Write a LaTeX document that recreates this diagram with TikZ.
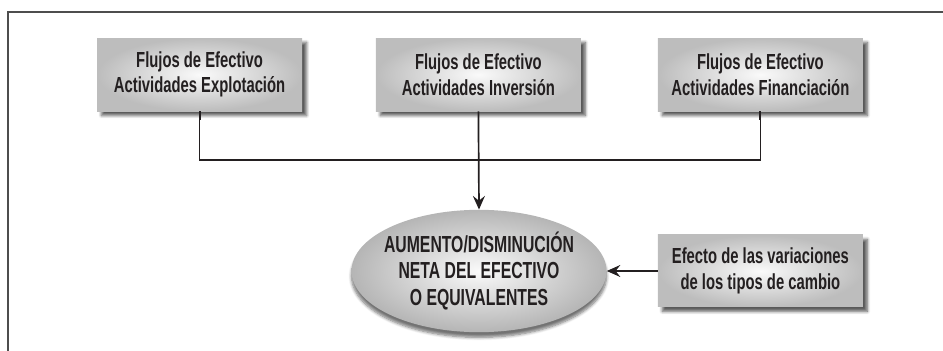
\documentclass[tikz,border=0pt]{standalone}
\usepackage{fontspec}
\setmainfont{Liberation Sans}[FakeStretch=0.68]
\usetikzlibrary{arrows.meta,shapes.geometric,shadows.blur}
\definecolor{tinta}{HTML}{231F20}
\definecolor{marco}{HTML}{4D4D4D}
\tikzset{
  flujo/.style={rectangle, minimum width=5.125cm, minimum height=1.825cm,
    inner color=white!96!gray, outer color=gray!52, align=center, text=tinta,
    font=\fontsize{15.5}{18}\selectfont\bfseries,
    blur shadow={shadow xshift=0.11cm, shadow yshift=-0.11cm, shadow opacity=65, shadow blur steps=6}},
  resultado/.style={ellipse, minimum width=5.55cm, minimum height=3cm, inner xsep=-0.12cm,
    inner color=white!96!gray, outer color=gray!58, align=center, text=tinta,
    font=\fontsize{16.5}{18.5}\selectfont\bfseries,
    blur shadow={shadow xshift=0cm, shadow yshift=-0.13cm, shadow opacity=55, shadow blur steps=6}},
  enlace/.style={line width=0.8pt, draw=tinta},
  flecha/.style={line width=1.2pt, draw=tinta, -{Stealth[length=3.4mm, width=3mm, inset=1.2mm]}}
}
\begin{document}
\begin{tikzpicture}
	\useasboundingbox (0,0) rectangle (23.575,8.775);
	% Marco abierto
	\draw [marco, line width=1.3pt] (0.2,0) -- (0.2,8.475) -- (23.575,8.475);
	% Flujos de efectivo
	\node [flujo] (explot) at (4.99,6.91) {Flujos de Efectivo\\Actividades Explotación};
	\node [flujo] (inver) at (11.96,6.91) {Flujos de Efectivo\\Actividades Inversión};
	\node [flujo] (financ) at (19.01,6.91) {Flujos de Efectivo\\Actividades Financiación};
	% Resultado
	\node [resultado] (neta) at (11.975,2.0) {AUMENTO/DISMINUCIÓN\\NETA DEL EFECTIVO\\O EQUIVALENTES};
	% Tipos de cambio
	\node [flujo, minimum height=1.8cm] (cambio) at (19.01,2.0) {Efecto de las variaciones\\de los tipos de cambio};
	% Conexiones
	\coordinate (union) at (11.96,4.775);
	\draw [enlace] (explot.south) -- (explot.south |- union) -- (financ.south |- union) -- (financ.south);
	\draw [line width=1.4pt, draw=tinta] (explot.south) -- ++(0,-0.22);
	\draw [line width=1.4pt, draw=tinta] (financ.south) -- ++(0,-0.22);
	\draw [flecha] (inver.south) -- (neta.north);
	\draw [flecha] (cambio.west) -- (neta.east);
\end{tikzpicture}
\end{document}
